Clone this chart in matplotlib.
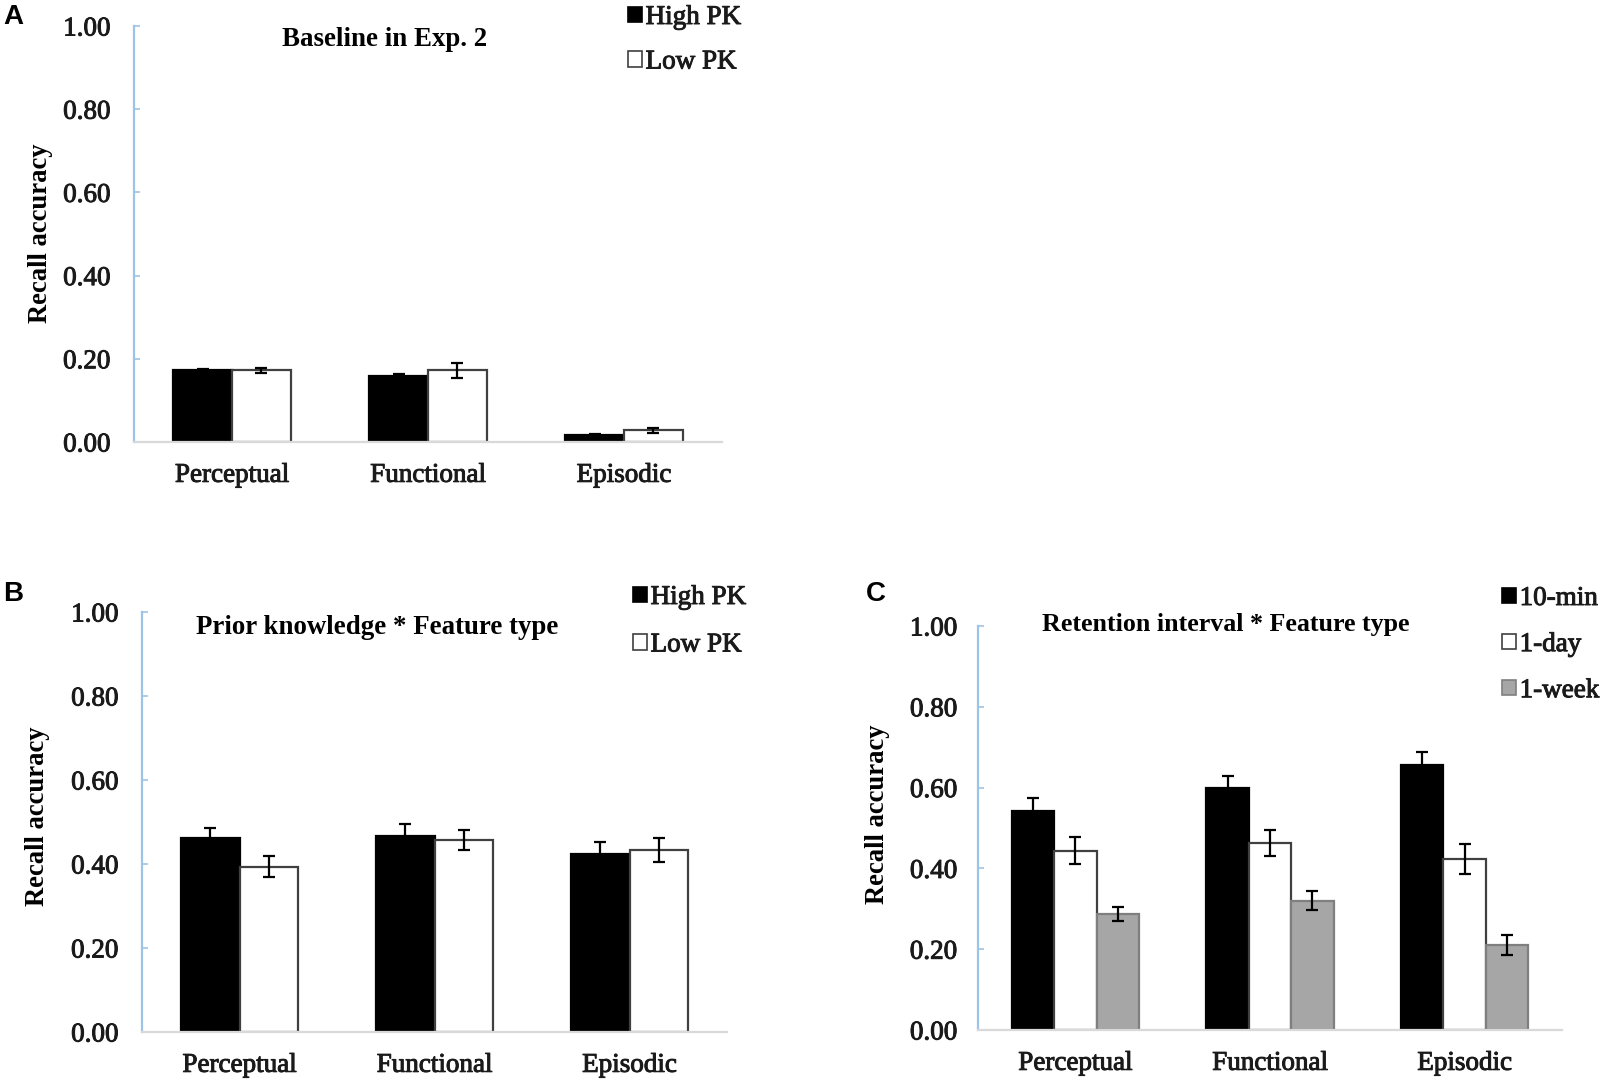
import matplotlib
matplotlib.use("Agg")
import matplotlib.pyplot as plt
from matplotlib.patches import Patch
import matplotlib.patheffects as pe
import numpy as np

# ---------------- data ----------------
categories = ["Perceptual", "Functional", "Episodic"]
yticks = [0.0, 0.2, 0.4, 0.6, 0.8, 1.0]

a_title = "Baseline in Exp. 2"
a_labels = ["High PK", "Low PK"]
a_high = [0.172, 0.158, 0.018]
a_high_err = [0.003, 0.005, 0.002]
a_low = [0.172, 0.172, 0.028]
a_low_err = [0.007, 0.019, 0.006]

b_title = "Prior knowledge * Feature type"
b_labels = ["High PK", "Low PK"]
b_high = [0.462, 0.467, 0.423]
b_high_err = [0.024, 0.028, 0.029]
b_low = [0.394, 0.458, 0.434]
b_low_err = [0.026, 0.024, 0.029]

c_title = "Retention interval * Feature type"
c_labels = ["10-min", "1-day", "1-week"]
c_10min = [0.542, 0.600, 0.656]
c_10min_err = [0.033, 0.029, 0.032]
c_1day = [0.444, 0.463, 0.424]
c_1day_err = [0.033, 0.033, 0.037]
c_1week = [0.287, 0.320, 0.211]
c_1week_err = [0.017, 0.023, 0.025]

ylabel = "Recall accuracy"

# ---------------- style ----------------
W, H = 1605, 1086
SERIF = ["Liberation Serif", "DejaVu Serif"]
plt.rcParams["font.family"] = SERIF
fig = plt.figure(figsize=(W / 100, H / 100), dpi=100)

BLUE = "#9dc3e6"
GRAY_AX = "#d9d9d9"
FILLS = ["black", "white", "#a6a6a6"]
EDGES = ["black", "#404040", "#7f7f7f"]
TICK_FS = 19.5
CAT_FS = 19.5
LEG_FS = 19.5
HEAVY = [pe.withStroke(linewidth=0.7, foreground="#1a1a1a")]


def px_axes(l, r, t, b):
    return fig.add_axes([l / W, 1 - b / H, (r - l) / W, (b - t) / H])


def style_axes(ax, ypad=17):
    ax.set_xlim(-0.5, 2.5)
    ax.set_ylim(0, 1)
    for s in ["top", "right"]:
        ax.spines[s].set_visible(False)
    ax.spines["left"].set_color(BLUE)
    ax.spines["left"].set_linewidth(1.6)
    ax.spines["bottom"].set_color(GRAY_AX)
    ax.spines["bottom"].set_linewidth(1.6)
    ax.set_yticks(yticks)
    ax.set_yticklabels([f"{v:.2f}" for v in yticks])
    ax.tick_params(axis="y", direction="in", length=4, width=1.2, color=BLUE,
                   labelsize=TICK_FS, pad=ypad, labelcolor="#1a1a1a")
    ax.set_xticks(range(len(categories)))
    ax.set_xticklabels(categories)
    ax.tick_params(axis="x", length=0, labelsize=CAT_FS, pad=15, labelcolor="#1a1a1a")
    for t in ax.get_xticklabels() + ax.get_yticklabels():
        t.set_path_effects(HEAVY)


def draw_bars(ax, series, errs, width):
    n = len(series)
    x = np.arange(len(categories))
    for i, (vals, er) in enumerate(zip(series, errs)):
        off = (i - (n - 1) / 2) * width
        ax.bar(x + off, vals, width=width, color=FILLS[i], edgecolor=EDGES[i],
               linewidth=1.6, zorder=2)
        ax.errorbar(x + off, vals, yerr=er, fmt="none", ecolor="black",
                    elinewidth=1.6, capsize=4.5, capthick=1.6, zorder=3)


def add_legend(ax, labels, x_px, y_px, spacing):
    handles = [Patch(facecolor=FILLS[i], edgecolor=EDGES[i], linewidth=1.2)
               for i in range(len(labels))]
    leg = ax.legend(handles, labels, loc="upper left",
                    bbox_to_anchor=(x_px / W, 1 - y_px / H), bbox_transform=fig.transFigure,
                    frameon=False, fontsize=LEG_FS, handlelength=0.5, handleheight=0.5,
                    handletextpad=0.15, labelspacing=spacing, borderpad=0, borderaxespad=0)
    for t in leg.get_texts():
        t.set_color("#1a1a1a")
        t.set_path_effects(HEAVY)


def ftext(x_px, y_px, s, **kw):
    fig.text(x_px / W, 1 - y_px / H, s, **kw)


# ---------------- panel A ----------------
axA = px_axes(134, 722, 26, 442)
style_axes(axA)
draw_bars(axA, [a_high, a_low], [a_high_err, a_low_err], 0.30)
add_legend(axA, a_labels, 628, 5, 0.72)
ftext(385, 39, a_title, ha="center", va="center", fontsize=19.4, fontweight="bold")
ftext(41, 233, ylabel, rotation=90, ha="center", va="center", fontsize=19.2, fontweight="bold")

# ---------------- panel B ----------------
axB = px_axes(142, 727, 612, 1032)
style_axes(axB)
draw_bars(axB, [b_high, b_low], [b_high_err, b_low_err], 0.30)
add_legend(axB, b_labels, 633, 585, 0.83)
ftext(377, 628, b_title, ha="center", va="center", fontsize=19.4, fontweight="bold")
ftext(38, 816, ylabel, rotation=90, ha="center", va="center", fontsize=19.2, fontweight="bold")

# ---------------- panel C ----------------
axC = px_axes(978, 1562, 626, 1030)
style_axes(axC, ypad=15)
draw_bars(axC, [c_10min, c_1day, c_1week], [c_10min_err, c_1day_err, c_1week_err], 0.218)
add_legend(axC, c_labels, 1502, 586, 0.78)
ftext(1226, 624, c_title, ha="center", va="center", fontsize=18.7, fontweight="bold")
ftext(878, 814, ylabel, rotation=90, ha="center", va="center", fontsize=19.2, fontweight="bold")

# panel letters
for lab, xp, yp in [("A", 13, 17), ("B", 13, 594), ("C", 876, 594)]:
    ftext(xp, yp, lab, ha="center", va="center", fontsize=20, fontweight="bold",
          family=["Liberation Sans", "DejaVu Sans"])

fig.savefig("out.png", dpi=100)
